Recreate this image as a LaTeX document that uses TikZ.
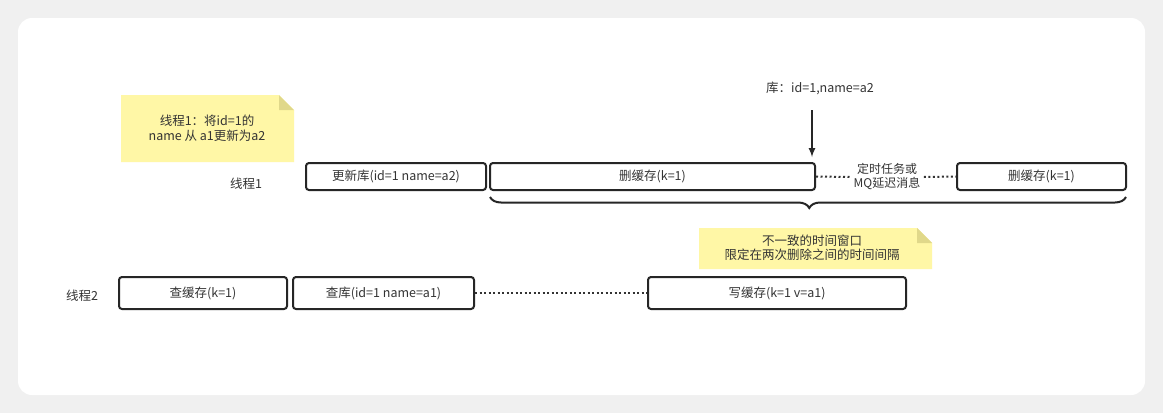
\documentclass[tikz,border=0pt]{standalone}
\usepackage{fontspec}
\setmainfont{Noto Sans CJK SC}
\usetikzlibrary{decorations.pathreplacing}
\definecolor{notey}{HTML}{FFF7A6}
\definecolor{notefold}{HTML}{E0D88A}
\tikzset{
  x=1pt,y=-1pt,
  box/.style={draw=black!85,line width=2pt,rounded corners=3pt,minimum height=27pt,inner sep=0pt,font=\fontsize{12.5}{14}\selectfont,text=black!80},
  lbl/.style={font=\fontsize{12.5}{15}\selectfont,text=black!80,align=center},
  dots/.style={line width=2pt,dash pattern=on 2pt off 2.5pt,black!80},
}
\newcommand{\mknote}[4]{% x1 y1 x2 y2
  \fill[notey] (#1,#2) -- (#3-15,#2) -- (#3,#2+15) -- (#3,#4) -- (#1,#4) -- cycle;
  \fill[notefold] (#3-15,#2) -- (#3,#2+15) -- (#3-15,#2+15) -- cycle;}
\begin{document}
\begin{tikzpicture}
\fill[black!6] (0,0) rectangle (1163,413);
\fill[white,rounded corners=14pt] (18,18) rectangle (1145,395);
\useasboundingbox (0,0) rectangle (1163,413);
% notes
\mknote{121}{95}{294}{162}
\node[lbl] (n1) at (207,128) {线程1：将id=1的\\name 从 a1更新为a2};
\mknote{699}{228}{932}{269}
\node[lbl,font=\fontsize{12.5}{14}\selectfont] (n2) at (812,248) {不一致的时间窗口\\限定在两次删除之间的时间间隔};
% thread 1
\node[lbl] (t1) at (246,184) {线程1};
\node[box,minimum width=180pt] (b1) at (396,176.5) {更新库(id=1 name=a2)};
\node[box,minimum width=325pt] (b2) at (652.5,176.5) {删缓存(k=1)};
\node[box,minimum width=169pt] (b3) at (1041.5,176.5) {删缓存(k=1)};
\node[lbl,font=\fontsize{12}{14}\selectfont] (mq) at (887,177) {定时任务或\\MQ延迟消息};
\draw[dots] (b2.east) -- (mq.west);
\draw[dots] (mq.east) -- (b3.west);
\node[lbl] (db) at (820,88) {库：id=1,name=a2};
\coordinate (ar) at (812,110);
\draw[-latex,line width=2pt,black!85] (ar) -- (812,157);
\draw[line width=2pt,black!85,decorate,decoration={brace,mirror,amplitude=11pt,aspect=0.502}] (490,197) -- (1126,197);
% thread 2
\node[lbl] (t2) at (82,296) {线程2};
\node[box,minimum width=168pt,minimum height=32pt] (c1) at (203,293) {查缓存(k=1)};
\node[box,minimum width=181pt,minimum height=32pt] (c2) at (383.5,293) {查库(id=1 name=a1)};
\node[box,minimum width=258pt,minimum height=32pt] (c3) at (777,293) {写缓存(k=1 v=a1)};
\draw[dots] (c2.east) -- (c3.west);
\end{tikzpicture}
\end{document}
